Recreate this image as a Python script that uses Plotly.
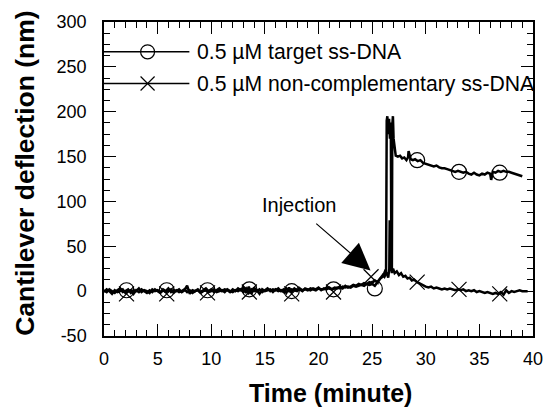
import plotly.graph_objects as go

# ---------------- data ----------------
BASE_T = [0.00, 0.25, 0.50, 0.75, 1.00, 1.25, 1.50, 1.75, 2.00, 2.25, 2.50, 2.75,
          3.00, 3.25, 3.50, 3.75, 4.00, 4.25, 4.50, 4.75, 5.00, 5.25, 5.50, 5.75,
          6.00, 6.25, 6.50, 6.75, 7.00, 7.25, 7.50, 7.75, 8.00, 8.25, 8.50, 8.75,
          9.00, 9.25, 9.50, 9.75, 10.00, 10.25, 10.50, 10.75, 11.00, 11.25, 11.50, 11.75,
          12.00, 12.25, 12.50, 12.75, 13.00, 13.25, 13.50, 13.75, 14.00, 14.25, 14.50, 14.75,
          15.00, 15.25, 15.50, 15.75, 16.00, 16.25, 16.50, 16.75, 17.00, 17.25, 17.50, 17.75,
          18.00, 18.25, 18.50, 18.75, 19.00, 19.25, 19.50, 19.75, 20.00, 20.25, 20.50, 20.75,
          21.00, 21.25, 21.50, 21.75, 22.00, 22.25, 22.50, 22.75, 23.00, 23.25, 23.50, 23.75,
          24.00, 24.25, 24.50, 24.75]

# 0.5 uM target ss-DNA
target_time = BASE_T + [25.00, 25.25, 25.50, 25.75, 26.00, 26.15, 26.30, 26.36, 26.42, 26.50,
                        26.58, 26.66, 26.74, 26.80, 26.84, 26.88, 26.94, 27.00, 27.10, 27.20,
                        27.40, 27.60, 27.80, 28.00, 28.20, 28.35, 28.40, 28.60,
                        28.80, 29.00, 29.25, 29.50, 29.75, 30.00, 30.25, 30.50, 30.75, 31.00,
                        31.25, 31.50, 31.75, 32.00, 32.25, 32.50, 32.75, 33.00, 33.25, 33.50,
                        33.75, 34.00, 34.25, 34.50, 34.75, 35.00, 35.25, 35.50, 35.75, 36.00,
                        36.10, 36.25, 36.50, 36.75, 37.00, 37.25, 37.50, 37.75, 38.00, 38.25,
                        38.50, 38.75, 39.00]
target_defl = [1, -1, 2, 0, -2, 1, 3, -1, 0, 2, -2, 1,
               0, 3, -1, 1, 0, -2, 2, 0, 1, -1, 2, 0,
               3, -1, 1, 0, 2, -1, 1, 6, -3, 1, 0, 2,
               -1, 1, 3, 0, 2, -1, 1, 3, 0, 2, 1, -1,
               2, 0, 3, 1, 4, -2, 5, -3, 4, 0, 2, -1,
               1, 3, 0, 2, 1, 3, 0, 2, -2, 4, -1, 3,
               1, 2, 0, 3, 2, 1, 3, 2, 4, 1, 3, 2,
               4, 2, 3, 4, 3, 5, 4, 5, 4, 6, 5, 6,
               7, 6, 8, 7] + \
              [8, 6, 10, 14, 18, 16, 20, 190, 195, 175,
               192, 170, 188, 25, 20, 185, 195, 170, 158, 151,
               150, 151, 148, 149, 146, 149, 156, 147,
               146, 147, 145, 146, 143, 142, 141, 140, 139, 140,
               138, 137, 137, 136, 135, 134, 133, 134, 133, 132,
               133, 131, 130, 132, 130, 129, 131, 130, 132, 131,
               124, 133, 132, 134, 133, 134, 133, 133, 132, 131,
               130, 129, 128]

# 0.5 uM non-complementary ss-DNA
noncomp_time = BASE_T + [25.00, 25.25, 25.50, 25.75, 26.00, 26.20, 26.35, 26.50, 26.60, 26.64,
                         26.70, 26.75, 26.85, 26.95, 27.10, 27.30, 27.50, 27.70, 27.90, 28.10,
                         28.30, 28.50, 28.70, 28.90, 29.20, 29.50, 29.75, 30.00, 30.25, 30.50,
                         30.75, 31.00, 31.25, 31.50, 31.75, 32.00, 32.25, 32.50, 32.75, 33.00,
                         33.25, 33.50, 33.75, 34.00, 34.25, 34.50, 34.75, 35.00, 35.25, 35.50,
                         35.75, 36.00, 36.25, 36.50, 36.75, 37.00, 37.25, 37.50, 37.75, 38.00,
                         38.25, 38.50, 38.75, 39.00, 39.25, 39.50]
noncomp_defl = [-1, 2, 0, -3, 1, -1, 0, 2, -2, 0, 1, -3,
                1, -1, 2, 0, -2, 1, -1, 2, 0, -2, 1, -1,
                0, 2, -2, 1, -1, 0, 2, -1, 1, -2, 0, 1,
                -2, 0, 1, -1, 0, 2, -1, 0, 1, -1, 2, 0,
                -1, 1, 0, 2, -1, 3, -2, 2, 0, 1, -3, 2,
                0, 1, 2, -1, 2, 0, 1, -1, 3, 0, 2, 1,
                0, 3, 1, 2, 1, 3, 2, 1, 3, 2, 2, 4,
                3, 2, 4, 3, 5, 3, 6, 4, 5, 7, 6, 8,
                7, 9, 8, 10] + \
               [9, 12, 10, 14, 16, 22, 20, 15, 25, 79,
                50, 28, 22, 25, 20, 22, 18, 20, 16, 17,
                14, 15, 12, 13, 10, 8, 6, 5, 4, 5,
                3, 4, 3, 2, 3, 2, 3, 2, 1, 2,
                1, 2, 0, 1, 0, 1, -1, 0, -1, -2,
                -1, -2, -3, -2, -3, -1, -4, 1, -2, 0,
                -1, 0, 1, 0, 0, 0]

# marker positions along each curve
target_mark_t = [2.1, 5.85, 9.65, 13.55, 17.5, 21.4, 25.25, 29.2, 33.1, 36.9]
target_mark_v = [1, 1, 1, 2, 0, 2, 3, 146, 133, 132]
noncomp_mark_t = [2.1, 5.85, 9.65, 13.55, 17.5, 21.4, 24.9, 29.2, 33.1, 36.9]
noncomp_mark_v = [-3, -3, -2, -1, -3, -1, 16, 10, 2, -3]

# tick labels
y_tick_vals = [-50, 0, 50, 100, 150, 200, 250, 300]
y_tick_text = ["-50", "0", "50", "100", "150", "200", "250", "300"]
x_tick_vals = [0, 5, 10, 15, 20, 25, 30, 35, 40]
x_tick_text = ["0", "5", "10", "15", "20", "25", "30", "35", "40"]

legend_labels = ["0.5 \u00b5M target ss-DNA", "0.5 \u00b5M non-complementary ss-DNA"]
x_title = "Time (minute)"
y_title = "Cantilever deflection (nm)"

# ---------------- figure ----------------
FONT = "Liberation Sans, Arial, Helvetica, sans-serif"
fig = go.Figure()

fig.add_trace(go.Scatter(x=target_time, y=target_defl, mode="lines",
                         line=dict(color="black", width=2.5), showlegend=False))
fig.add_trace(go.Scatter(x=noncomp_time, y=noncomp_defl, mode="lines",
                         line=dict(color="black", width=2.5), showlegend=False))
fig.add_trace(go.Scatter(x=target_mark_t, y=target_mark_v, mode="markers",
                         marker=dict(symbol="circle-open", size=15, color="black",
                                     line=dict(width=1.2, color="black")),
                         showlegend=False))
fig.add_trace(go.Scatter(x=noncomp_mark_t, y=noncomp_mark_v, mode="markers",
                         marker=dict(symbol="x-thin-open", size=15, color="black",
                                     line=dict(width=1.2, color="black")),
                         showlegend=False))

axis_common = dict(showgrid=False, zeroline=False, showline=True, linecolor="black",
                   linewidth=1.5, mirror="allticks", ticks="inside", ticklen=12,
                   tickwidth=1.2, tickcolor="black",
                   tickfont=dict(family=FONT, size=18, color="black"))

fig.update_xaxes(range=[0, 40], tickmode="array", tickvals=x_tick_vals, ticktext=x_tick_text,
                 minor=dict(dtick=1, tick0=0, ticks="inside", ticklen=6, tickwidth=1,
                            tickcolor="black"),
                 ticklabelstandoff=6, **axis_common)
fig.update_yaxes(range=[-50, 300], tickmode="array", tickvals=y_tick_vals, ticktext=y_tick_text,
                 minor=dict(dtick=12.5, tick0=0, ticks="inside", ticklen=6, tickwidth=1,
                            tickcolor="black"),
                 ticklabelstandoff=12, **axis_common)

# manual legend (top-left, inside the frame)
rows = [0.905, 0.804]
shapes = []
for yv in rows:
    shapes.append(dict(type="line", xref="paper", yref="paper", x0=0, x1=0.199,
                       y0=yv, y1=yv, line=dict(color="black", width=1.5)))
shapes.append(dict(type="circle", xref="paper", yref="paper", xsizemode="pixel",
                   ysizemode="pixel", xanchor=0.1016, yanchor=rows[0],
                   x0=-7, x1=7, y0=-7, y1=7, line=dict(color="black", width=1.2)))
for sgn in (1, -1):
    shapes.append(dict(type="line", xref="paper", yref="paper", xsizemode="pixel",
                       ysizemode="pixel", xanchor=0.1016, yanchor=rows[1],
                       x0=-7, x1=7, y0=-7 * sgn, y1=7 * sgn,
                       line=dict(color="black", width=1.2)))

annotations = []
for yv, lab in zip(rows, legend_labels):
    annotations.append(dict(text=lab, xref="paper", yref="paper", x=0.2125, y=yv,
                            xanchor="left", yanchor="middle", showarrow=False,
                            font=dict(family=FONT, size=21.2, color="black")))

# injection label and arrow
annotations.append(dict(text="Injection", xref="paper", yref="paper",
                        x=(301 - 104) / 433, y=(336 - 204) / 316,
                        xanchor="center", yanchor="middle", showarrow=False,
                        font=dict(family=FONT, size=20, color="black")))
annotations.append(dict(text="", x=24.85, y=23, xref="x", yref="y",
                        ax=19.65, ay=76.7, axref="x", ayref="y",
                        showarrow=True, arrowhead=2, arrowsize=4.5, arrowwidth=1.2,
                        arrowcolor="black"))

# axis titles
annotations.append(dict(text="<b>" + x_title + "</b>", xref="paper", yref="paper",
                        x=(333 - 104) / 433, y=(336 - 393) / 316,
                        xanchor="center", yanchor="middle", showarrow=False,
                        font=dict(family=FONT, size=25, color="black")))
annotations.append(dict(text="<b>" + y_title + "</b>", xref="paper", yref="paper",
                        x=(24 - 104) / 433, y=(336 - 172) / 316, textangle=-90,
                        xanchor="center", yanchor="middle", showarrow=False,
                        font=dict(family=FONT, size=26.5, color="black")))

fig.update_layout(width=555, height=407,
                  margin=dict(l=104, r=18, t=20, b=71),
                  paper_bgcolor="white", plot_bgcolor="white",
                  showlegend=False, shapes=shapes, annotations=annotations,
                  font=dict(family=FONT, color="black"))

fig.write_html("out.html", config={"displayModeBar": False},
               post_script="document.body.style.margin='0';document.body.style.overflow='hidden';")
